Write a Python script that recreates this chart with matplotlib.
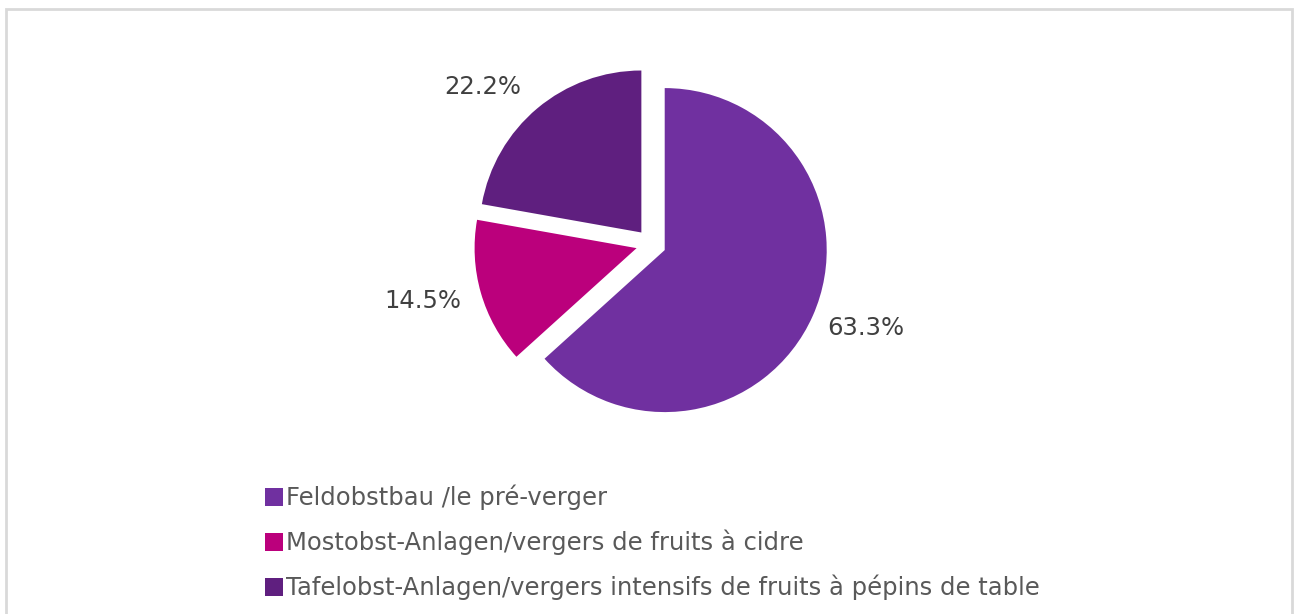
import matplotlib.pyplot as plt
from matplotlib.patches import Patch

# data
labels = ["Feldobstbau /le pré-verger",
          "Mostobst-Anlagen/vergers de fruits à cidre",
          "Tafelobst-Anlagen/vergers intensifs de fruits à pépins de table"]
shares = [63.3, 14.5, 22.2]
colors = ["#7030A0", "#BB007C", "#5F1F7F"]

plt.rcParams["font.family"] = ["DejaVu Sans"]

W, H = 1294, 614
fig = plt.figure(figsize=(W / 100, H / 100), dpi=100)
ax = fig.add_axes([0, 0, 1, 1])

# grey frame (no bottom edge visible)
ax.plot([6, 6, 1292, 1292], [0, H - 9, H - 9, 0], color="#D9D9D9", lw=2,
        solid_joinstyle="miter")

wedges, texts, autotexts = ax.pie(
    shares, colors=colors, startangle=90, counterclock=False,
    explode=[15, 15, 15], radius=162, center=(651, H - 244),
    autopct="%.1f%%", pctdistance=1.34,
    wedgeprops=dict(linewidth=0),
    textprops=dict(fontsize=17.5, color="#404040"))

# small nudges so labels sit like the outside-end labels of the original
nudges = [(3, 10), (-5, 7), (-19, -21)]
for t, (dx, dy) in zip(autotexts, nudges):
    x, y = t.get_position()
    t.set_position((x + dx, y + dy))

ax.set_xlim(0, W)
ax.set_ylim(0, H)
ax.set_aspect("equal")
ax.axis("off")

handles = [Patch(facecolor=c, edgecolor="none") for c in colors]
fig.legend(handles, labels, loc="upper left",
           bbox_to_anchor=(265 / W, 1 - 485 / H), frameon=False,
           fontsize=17.5, labelcolor="#595959",
           handlelength=0.72, handleheight=0.72, handletextpad=0.15,
           labelspacing=0.8, borderaxespad=0, borderpad=0)

fig.savefig("out.png", dpi=100)
